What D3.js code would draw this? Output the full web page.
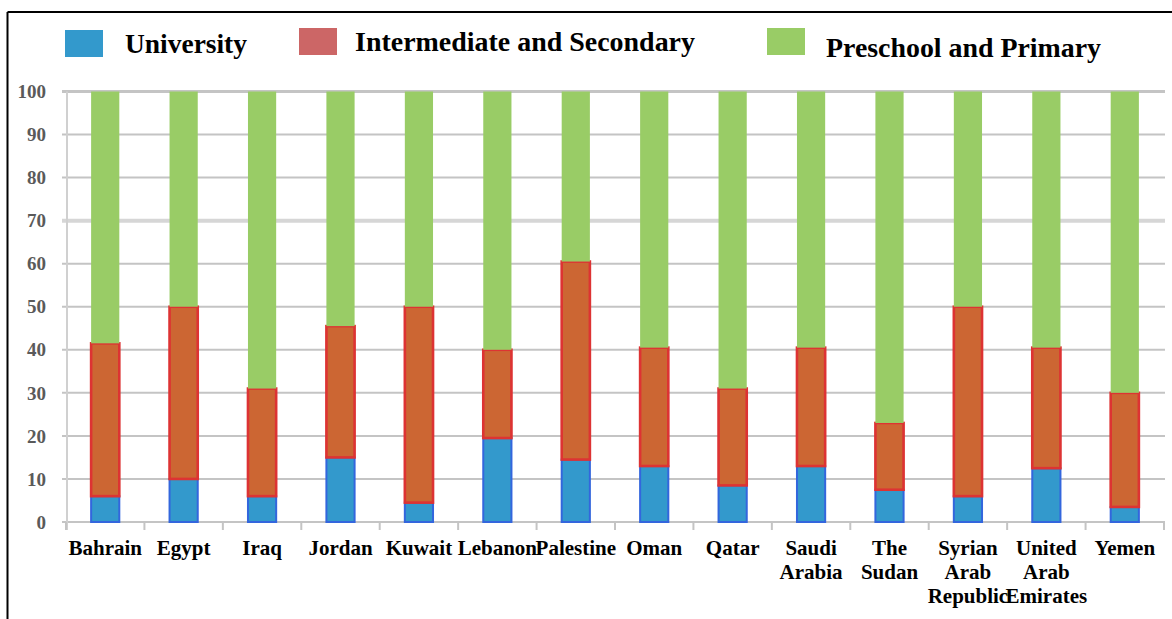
<!DOCTYPE html>
<html>
<head>
<meta charset="utf-8">
<script src="https://cdn.jsdelivr.net/npm/d3@7"></script>
<style>
  html, body { margin: 0; padding: 0; background: #fff; }
  svg { display: block; }
  text { font-family: "Liberation Serif", "DejaVu Serif", serif; }
</style>
</head>
<body>
<svg id="chart" width="1172" height="619"></svg>
<script>
// Share of education spending by level, per country (percent)
const countries = ["Bahrain", "Egypt", "Iraq", "Jordan", "Kuwait", "Lebanon", "Palestine",
  "Oman", "Qatar", "Saudi Arabia", "The Sudan", "Syrian Arab Republic",
  "United Arab Emirates", "Yemen"];
const university   = [6, 10, 6, 15, 4.5, 19.5, 14.5, 13, 8.5, 13, 7.5, 6, 12.5, 3.5];
const intermediate = [35.5, 40, 25, 30.5, 45.5, 20.5, 46, 27.5, 22.5, 27.5, 15.5, 44, 28, 26.5];
const preschool    = [58.5, 50, 69, 54.5, 50, 60, 39.5, 59.5, 69, 59.5, 77, 50, 59.5, 70];
const seriesNames  = ["University", "Intermediate and Secondary", "Preschool and Primary"];
const yTicks       = [0, 10, 20, 30, 40, 50, 60, 70, 80, 90, 100];

const rows = countries.map((c, i) => ({
  country: c,
  University: university[i],
  "Intermediate and Secondary": intermediate[i],
  "Preschool and Primary": preschool[i]
}));

const fills   = { "University": "#3399cc", "Intermediate and Secondary": "#cc6633", "Preschool and Primary": "#99cc66" };
const strokes = { "University": "#3366dd", "Intermediate and Secondary": "#dd3333", "Preschool and Primary": "none" };
const strokeW = { "University": 2, "Intermediate and Secondary": 2.6, "Preschool and Primary": 0 };
const legendFill = { "University": "#3399cc", "Intermediate and Secondary": "#cc6666", "Preschool and Primary": "#99cc66" };

const svg = d3.select("#chart");

const x = d3.scaleBand().domain(countries).range([66, 1164]).paddingInner(0.615).paddingOuter(0.3075);
const y = d3.scaleLinear().domain([0, 100]).range([522, 91.5]);

// outer frame (top and left edges)
svg.append("line").attr("x1", 7.5).attr("x2", 1172).attr("y1", 12).attr("y2", 12)
  .attr("stroke", "#000").attr("stroke-width", 2);
svg.append("line").attr("x1", 7.5).attr("x2", 7.5).attr("y1", 12).attr("y2", 619)
  .attr("stroke", "#000").attr("stroke-width", 2);

// horizontal gridlines
svg.append("g").selectAll("line").data(yTicks).join("line")
  .attr("x1", 62).attr("x2", 1165)
  .attr("y1", d => y(d)).attr("y2", d => y(d))
  .attr("stroke", d => d === 70 ? "#d6d6d6" : "#c4c4c4")
  .attr("stroke-width", d => d === 70 ? 4 : (d === 100 ? 3 : 2));

// y axis line
svg.append("line").attr("x1", 67).attr("x2", 67).attr("y1", y(100)).attr("y2", 530)
  .attr("stroke", "#d0d0d0").attr("stroke-width", 2);

// x axis ticks at category boundaries
const step = x.step();
const bounds = d3.range(countries.length + 1).map(i => 66 + i * step);
svg.append("g").selectAll("line").data(bounds).join("line")
  .attr("x1", d => d).attr("x2", d => d).attr("y1", y(0)).attr("y2", 530)
  .attr("stroke", "#c4c4c4").attr("stroke-width", 2);

// y tick labels
svg.append("g").selectAll("text").data(yTicks).join("text")
  .attr("x", 46).attr("y", d => y(d)).attr("dy", "0.35em")
  .attr("text-anchor", "end")
  .attr("font-size", 19).attr("font-weight", "bold").attr("fill", "#5a5a5a")
  .text(d => d);

// stacked bars
const stack = d3.stack().keys(seriesNames);
const layers = stack(rows);

svg.append("g").selectAll("g").data(layers).join("g")
  .attr("fill", d => fills[d.key])
  .attr("stroke", d => strokes[d.key])
  .attr("stroke-width", d => strokeW[d.key])
  .selectAll("rect").data(d => d).join("rect")
  .attr("x", d => x(d.data.country) + 1)
  .attr("width", x.bandwidth() - 2)
  .attr("y", d => y(d[1]))
  .attr("height", d => y(d[0]) - y(d[1]));

// category labels, wrapped word by word
const labels = svg.append("g").selectAll("text").data(countries).join("text")
  .attr("text-anchor", "middle")
  .attr("font-size", 21).attr("font-weight", "bold").attr("fill", "#000")
  .attr("transform", d => `translate(${x(d) + x.bandwidth() / 2},555)`);
labels.selectAll("tspan").data(d => d.split(" ")).join("tspan")
  .attr("x", 0).attr("y", (d, i) => i * 24)
  .text(d => d);

// legend
const legendItems = [
  { key: "University", sx: 65, sy: 30, tx: 125, ty: 53, w: 122 },
  { key: "Intermediate and Secondary", sx: 299, sy: 28, tx: 355, ty: 51, w: 340 },
  { key: "Preschool and Primary", sx: 767, sy: 28, tx: 826, ty: 56.5, w: 275 }
];
const lg = svg.append("g").selectAll("g").data(legendItems).join("g");
lg.append("rect").attr("x", d => d.sx).attr("y", d => d.sy)
  .attr("width", 38).attr("height", 27)
  .attr("fill", d => legendFill[d.key]);
lg.append("text").attr("x", d => d.tx).attr("y", d => d.ty)
  .attr("font-size", 28).attr("font-weight", "bold").attr("fill", "#000")
  .attr("textLength", d => d.w).attr("lengthAdjust", "spacingAndGlyphs")
  .text(d => d.key);
</script>
</body>
</html>
